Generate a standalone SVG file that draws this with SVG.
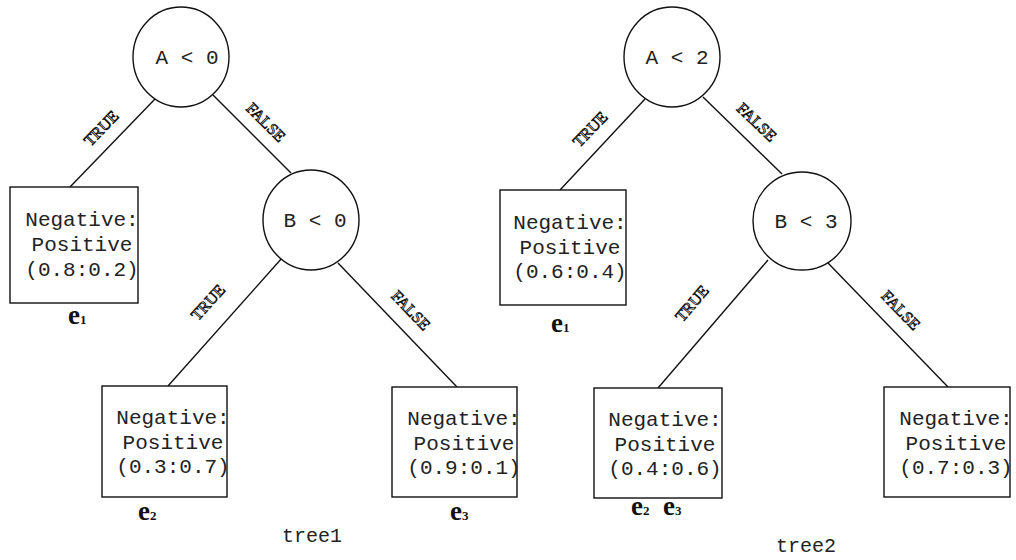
<svg xmlns="http://www.w3.org/2000/svg" width="1016" height="560" viewBox="0 0 1016 560">
  <style>
    .shape { fill: #fff; stroke: #111; stroke-width: 1.4; }
    .edge { stroke: #111; stroke-width: 1.4; fill: none; }
    .mono { font-family: "Liberation Mono", "Courier New", monospace; font-size: 21px; fill: #222; }
    .cap { font-family: "Liberation Mono", "Courier New", monospace; font-size: 20px; fill: #222; }
    .lbl { font-family: "Liberation Serif", "Times New Roman", serif; font-size: 16px; fill: #fff; stroke: #111; stroke-width: 0.9; }
    .ex { font-family: "Liberation Serif", "Times New Roman", serif; font-size: 27px; font-weight: bold; fill: #111; }
    .sub { font-size: 13px; }
  </style>
  <rect width="1016" height="560" fill="#fff"/>

  <!-- connectors -->
  <g id="connectors">
    <line class="edge" x1="155" y1="99" x2="70" y2="187"/>
    <line class="edge" x1="213" y1="95" x2="291" y2="173"/>
    <line class="edge" x1="282" y1="258" x2="168" y2="386"/>
    <line class="edge" x1="338" y1="263" x2="457" y2="387"/>
    <line class="edge" x1="645" y1="99" x2="560" y2="190"/>
    <line class="edge" x1="703" y1="97" x2="782" y2="174"/>
    <line class="edge" x1="768" y1="260" x2="658" y2="388"/>
    <line class="edge" x1="828" y1="263" x2="948" y2="387"/>
    <!-- branch labels -->
    <text class="lbl" text-anchor="middle" transform="translate(105,132) rotate(-45.7)">TRUE</text>
    <text class="lbl" text-anchor="middle" transform="translate(262,126) rotate(45)">FALSE</text>
    <text class="lbl" text-anchor="middle" transform="translate(212,306) rotate(-48.3)">TRUE</text>
    <text class="lbl" text-anchor="middle" transform="translate(407,314) rotate(46.2)">FALSE</text>
    <text class="lbl" text-anchor="middle" transform="translate(594,133) rotate(-46.3)">TRUE</text>
    <text class="lbl" text-anchor="middle" transform="translate(753,126) rotate(43.9)">FALSE</text>
    <text class="lbl" text-anchor="middle" transform="translate(696,307) rotate(-49.3)">TRUE</text>
    <text class="lbl" text-anchor="middle" transform="translate(897,314) rotate(45.9)">FALSE</text>
  </g>

  <!-- tree1 -->
  <g id="t1-root">
    <ellipse class="shape" cx="181" cy="57" rx="48" ry="50"/>
    <text class="mono" x="187" y="64" text-anchor="middle" xml:space="preserve">A &lt; 0</text>
  </g>
  <g id="t1-b">
    <ellipse class="shape" cx="311" cy="220" rx="48" ry="50"/>
    <text class="mono" x="315" y="227" text-anchor="middle" xml:space="preserve">B &lt; 0</text>
  </g>
  <g id="t1-leaf1">
    <rect class="shape" x="10" y="187" width="128" height="116"/>
    <text class="mono" x="82" y="226" text-anchor="middle">Negative:</text>
    <text class="mono" x="82" y="251" text-anchor="middle">Positive</text>
    <text class="mono" x="82" y="276" text-anchor="middle">(0.8:0.2)</text>
    <text class="ex" x="68" y="324">e<tspan class="sub">1</tspan></text>
  </g>
  <g id="t1-leaf2">
    <rect class="shape" x="102" y="386" width="125" height="111"/>
    <text class="mono" x="173" y="424" text-anchor="middle">Negative:</text>
    <text class="mono" x="173" y="449" text-anchor="middle">Positive</text>
    <text class="mono" x="173" y="473" text-anchor="middle">(0.3:0.7)</text>
    <text class="ex" x="138" y="520">e<tspan class="sub">2</tspan></text>
  </g>
  <g id="t1-leaf3">
    <rect class="shape" x="392" y="387" width="125" height="110"/>
    <text class="mono" x="464" y="425" text-anchor="middle">Negative:</text>
    <text class="mono" x="464" y="450" text-anchor="middle">Positive</text>
    <text class="mono" x="464" y="474" text-anchor="middle">(0.9:0.1)</text>
    <text class="ex" x="450" y="520">e<tspan class="sub">3</tspan></text>
  </g>
  <text class="cap" x="312" y="542" text-anchor="middle">tree1</text>

  <!-- tree2 -->
  <g id="t2-root">
    <ellipse class="shape" cx="672" cy="57" rx="48" ry="50"/>
    <text class="mono" x="677" y="64" text-anchor="middle" xml:space="preserve">A &lt; 2</text>
  </g>
  <g id="t2-b">
    <ellipse class="shape" cx="802" cy="221" rx="49" ry="49"/>
    <text class="mono" x="806" y="228" text-anchor="middle" xml:space="preserve">B &lt; 3</text>
  </g>
  <g id="t2-leaf1">
    <rect class="shape" x="500" y="190" width="126" height="115"/>
    <text class="mono" x="570" y="229" text-anchor="middle">Negative:</text>
    <text class="mono" x="570" y="254" text-anchor="middle">Positive</text>
    <text class="mono" x="570" y="278" text-anchor="middle">(0.6:0.4)</text>
    <text class="ex" x="551" y="332">e<tspan class="sub">1</tspan></text>
  </g>
  <g id="t2-leaf2">
    <rect class="shape" x="594" y="388" width="128" height="110"/>
    <text class="mono" x="665" y="426" text-anchor="middle">Negative:</text>
    <text class="mono" x="665" y="451" text-anchor="middle">Positive</text>
    <text class="mono" x="665" y="475" text-anchor="middle">(0.4:0.6)</text>
    <text class="ex" x="631" y="515">e<tspan class="sub">2</tspan></text>
    <text class="ex" x="663" y="515">e<tspan class="sub">3</tspan></text>
  </g>
  <g id="t2-leaf3">
    <rect class="shape" x="884" y="387" width="126" height="110"/>
    <text class="mono" x="956" y="425" text-anchor="middle">Negative:</text>
    <text class="mono" x="956" y="450" text-anchor="middle">Positive</text>
    <text class="mono" x="956" y="474" text-anchor="middle">(0.7:0.3)</text>
  </g>
  <text class="cap" x="806" y="552" text-anchor="middle">tree2</text>
</svg>
